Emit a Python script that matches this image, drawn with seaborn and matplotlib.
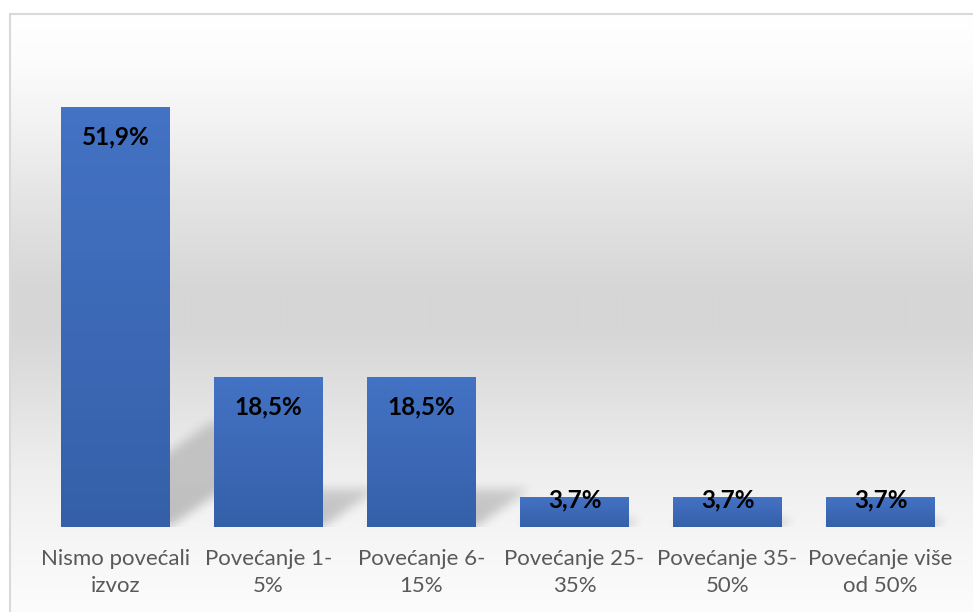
import numpy as np
import pandas as pd
import matplotlib
matplotlib.use("Agg")
import matplotlib.pyplot as plt
import seaborn as sns
from matplotlib.colors import LinearSegmentedColormap

# ---- data ----
categories = ["Nismo povećali\nizvoz", "Povećanje 1-\n5%", "Povećanje 6-\n15%",
              "Povećanje 25-\n35%", "Povećanje 35-\n50%", "Povećanje više\nod 50%"]
values = [51.9, 18.5, 18.5, 3.7, 3.7, 3.7]
value_labels = ["51,9%", "18,5%", "18,5%", "3,7%", "3,7%", "3,7%"]

df = pd.DataFrame({"cat": categories, "val": values})

sns.set_theme(style="white")
plt.rcParams["font.family"] = ["Lato", "DejaVu Sans"]

W, H, DPI = 973, 612, 100
fig = plt.figure(figsize=(W / DPI, H / DPI), dpi=DPI)
fig.patch.set_facecolor("white")

# ---- chart-area background with vertical gradient ----
bg = fig.add_axes([10 / W, 0, 1 - 10 / W, (H - 14) / H], zorder=-5)
ypix = np.arange(14, H)
prof_y = [14, 60, 120, 200, 290, 330, 400, 470, 530, 612]
prof_v = [255, 252, 243, 228, 214, 214, 226, 238, 245, 252]
g = np.interp(ypix, prof_y, prof_v) / 255.0
grad = np.repeat(g[:, None], 10, axis=1)
bg.imshow(np.dstack([grad, grad, grad]), aspect="auto", extent=(0, 1, 0, 1),
          interpolation="bilinear")
bg.set_xlim(0, 1); bg.set_ylim(0, 1)
bg.set_xticks([]); bg.set_yticks([])
for s in ["right", "bottom"]:
    bg.spines[s].set_visible(False)
for s in ["left", "top"]:
    bg.spines[s].set_color("#d9d9d9")
    bg.spines[s].set_linewidth(1.5)

# ---- main axes ----
ax = fig.add_axes([39 / W, (H - 527) / H, (957 - 39) / W, (527 - 41.6) / H])
ax.set_facecolor("none")
YMAX = 60
bar_w = 0.71
sns.barplot(data=df, x="cat", y="val", color="#4472c4", saturation=1,
            width=bar_w, ax=ax, zorder=3)
ax.set_xlim(-0.5, len(values) - 0.5)
ax.set_ylim(0, YMAX)

# ---- perspective shadows (blurred) ----
nx, ny = 918, 486
xs = np.linspace(-0.5, len(values) - 0.5, nx)
ys = np.linspace(0, YMAX, ny)
X, Y = np.meshgrid(xs, ys)
mask = np.zeros_like(X)
for i, v in enumerate(values):
    sh_h = 0.25 * v
    shift = 0.019 * v
    t = np.clip(Y / sh_h, 0, None)
    xp = X - t * shift
    inside = (Y <= sh_h) & (xp >= i - bar_w / 2) & (xp <= i + bar_w / 2)
    mask = np.maximum(mask, inside.astype(float) * (1 - 0.3 * np.clip(t, 0, 1)))

def gblur(a, sigma):
    r = int(3 * sigma)
    k = np.exp(-0.5 * (np.arange(-r, r + 1) / sigma) ** 2)
    k /= k.sum()
    a = np.apply_along_axis(lambda m: np.convolve(m, k, mode="same"), 0, a)
    a = np.apply_along_axis(lambda m: np.convolve(m, k, mode="same"), 1, a)
    return a

mask = gblur(mask, 5)
rgba = np.zeros((ny, nx, 4))
rgba[..., 3] = 0.22 * mask
ax.imshow(rgba, origin="lower", extent=(-0.5, len(values) - 0.5, 0, YMAX),
          aspect="auto", zorder=1, interpolation="bilinear")

# ---- gradient fill in bars ----
bar_cmap = LinearSegmentedColormap.from_list("barg", ["#3560a9", "#4472c4"])
for p in ax.patches:
    x0, y0 = p.get_x(), p.get_y()
    w, h = p.get_width(), p.get_height()
    gr = np.linspace(0, 1, 100)[:, None]
    im = ax.imshow(gr, cmap=bar_cmap, origin="lower", aspect="auto",
                   extent=(x0, x0 + w, y0, y0 + h), zorder=3.5)
    im.set_clip_path(p)
    p.set_edgecolor("none")
ax.set_xlim(-0.5, len(values) - 0.5)
ax.set_ylim(0, YMAX)

# ---- value labels ----
px_per_unit = (527 - 41.6) / YMAX
for i, (v, lab) in enumerate(zip(values, value_labels)):
    off_px = -30 if v * px_per_unit > 60 else -3
    ax.annotate(lab, (i, v), xytext=(0, off_px * 72 / DPI), textcoords="offset points",
                ha="center", va="center", fontsize=17.5, fontweight="bold",
                color="black", zorder=6)

# ---- axes styling ----
ax.set_xlabel(""); ax.set_ylabel("")
ax.set_yticks([])
ax.tick_params(axis="x", length=0, pad=16, labelsize=16, labelcolor="#595959")
for lbl in ax.get_xticklabels():
    lbl.set_linespacing(1.45)
for s in ax.spines.values():
    s.set_visible(False)

fig.savefig("out.png", dpi=DPI)
